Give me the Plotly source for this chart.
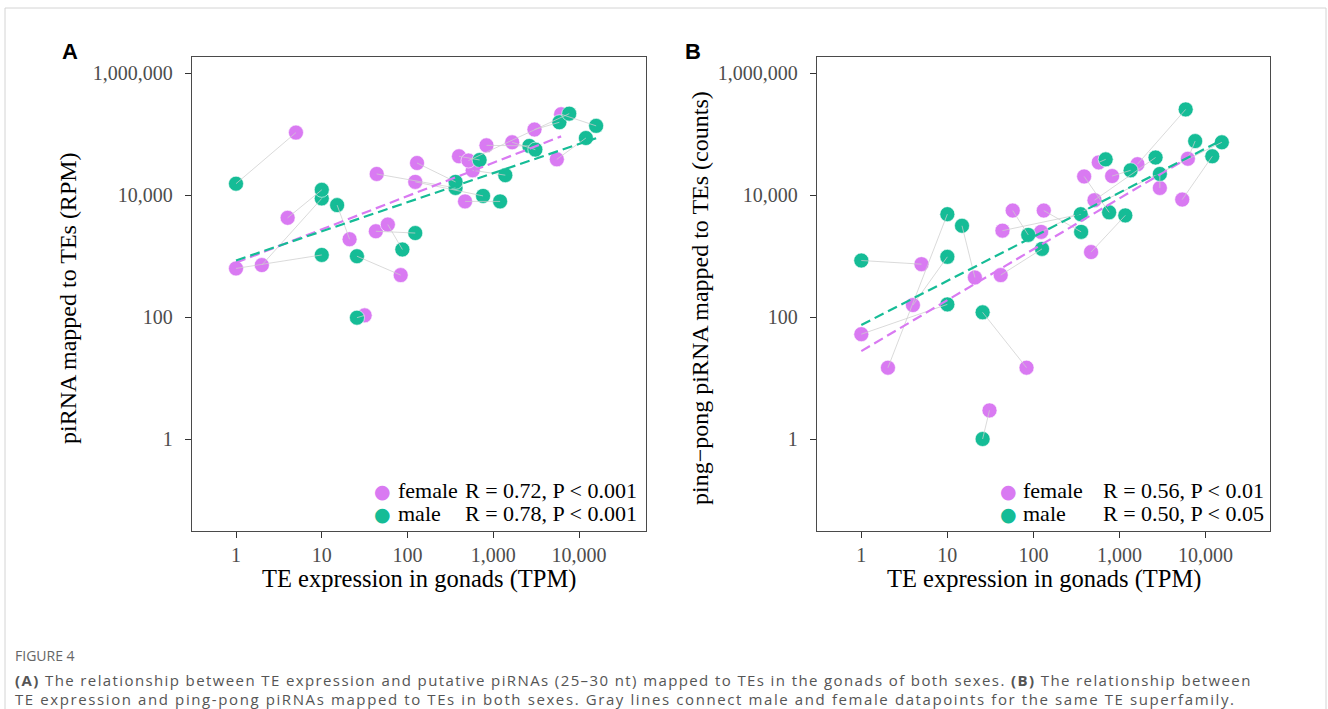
import numpy as np
import plotly.graph_objects as go

# ---------------- data ----------------
# Panel A: piRNA mapped to TEs (RPM) vs TE expression (TPM); index i = same TE superfamily
a_female_tpm = [5.0, 1, 2.0, 4.0, 21.1, 83.2, 31.6, 42.7, 58.9, 43.7, 129, 123, 398, 575, 468, 832, 1660, 3020, 5500, 6170, 513]
a_female_rpm = [107000, 630, 716, 4270, 1900, 490, 107, 2570, 3310, 22400, 33900, 16600, 43700, 25700, 7940, 66100, 74100, 120000, 38900, 214000, 37200]
a_male_tpm = [1, 10, 10, 10, 15.1, 25.7, 25.7, 123, 87, 363, 363, 759, 692, 1380, 1200, 2630, 3090, 5890, 12000, 15800, 7670]
a_male_rpm = [15500, 1050, 8900, 12300, 6900, 1000, 98, 2400, 1290, 13200, 16600, 9770, 38000, 21400, 7940, 64600, 56200, 158000, 87100, 138000, 219000]

# Panel B: ping-pong piRNA mapped to TEs (counts) vs TE expression (TPM)
b_female_tpm = [5.0, 2.04, 3.98, 1, 20.9, 83.2, 30.9, 41.7, 57.5, 132, 43.7, 468, 575, 1620, 5370, 6240, 2950, 822, 513, 389, 123]
b_female_cnt = [741, 14.8, 158, 52.5, 447, 14.8, 2.95, 490, 5620, 5620, 2630, 1170, 34700, 32400, 8510, 39800, 13200, 20700, 8320, 20400, 2510]
b_male_tpm = [1, 10, 10, 10, 14.8, 25.7, 25.7, 126, 87.1, 359, 355, 1170, 692, 5890, 12000, 7590, 2950, 1350, 2630, 759, 15500]
b_male_cnt = [851, 4900, 977, 162, 3160, 120, 1, 1320, 2240, 2510, 4900, 4680, 38900, 257000, 43700, 77600, 22400, 25700, 41700, 5250, 74100]

stats_a = {"female": "R = 0.72, P < 0.001", "male": "R = 0.78, P < 0.001"}
stats_b = {"female": "R = 0.56, P < 0.01", "male": "R = 0.50, P < 0.05"}

x_tickvals = [1, 10, 100, 1000, 10000]
x_ticktext = ["1", "10", "100", "1,000", "10,000"]
y_tickvals = [1, 100, 10000, 1000000]
y_ticktext = ["1", "100", "10,000", "1,000,000"]

PINK = "#D97AF2"
GREEN = "#15BC96"
SERIF = "Liberation Serif, Times New Roman, serif"
W, H = 1328, 709

fig = go.Figure()


def add_panel(fx, fy, mx, my, xa, ya):
    # points
    fig.add_trace(go.Scatter(x=fx, y=fy, mode="markers", xaxis=xa, yaxis=ya, showlegend=False,
                             marker=dict(color=PINK, size=15, line=dict(color="white", width=0.6))))
    fig.add_trace(go.Scatter(x=mx, y=my, mode="markers", xaxis=xa, yaxis=ya, showlegend=False,
                             marker=dict(color=GREEN, size=15, line=dict(color="white", width=0.6))))
    # grey connectors between sexes of the same superfamily
    lx, ly = [], []
    for a, b, c, d in zip(fx, fy, mx, my):
        lx += [a, c, None]
        ly += [b, d, None]
    fig.add_trace(go.Scatter(x=lx, y=ly, mode="lines", xaxis=xa, yaxis=ya, showlegend=False,
                             line=dict(color="rgba(205,205,205,0.75)", width=1)))
    # log-log regression lines
    for xs, ys, col in ((fx, fy, PINK), (mx, my, GREEN)):
        lxs, lys = np.log10(xs), np.log10(ys)
        k, b0 = np.polyfit(lxs, lys, 1)
        xe = np.array([lxs.min(), lxs.max()])
        fig.add_trace(go.Scatter(x=10 ** xe, y=10 ** (k * xe + b0), mode="lines", xaxis=xa, yaxis=ya,
                                 showlegend=False, line=dict(color=col, width=2.2, dash="10px,5px")))


add_panel(a_female_tpm, a_female_rpm, a_male_tpm, a_male_rpm, "x", "y")
add_panel(b_female_tpm, b_female_cnt, b_male_tpm, b_male_cnt, "x2", "y2")

axis_common = dict(type="log", showline=True, linecolor="#4a4a4a", linewidth=1.3, mirror=True,
                   ticks="outside", ticklen=6, tickwidth=1.3, tickcolor="#333333",
                   showgrid=False, zeroline=False,
                   tickfont=dict(family=SERIF, size=20, color="#4d4d4d"))

py0, py1 = 57, 531
ydom = [1 - py1 / H, 1 - py0 / H]
fig.update_layout(
    width=W, height=H, margin=dict(l=0, r=0, t=0, b=0),
    paper_bgcolor="white", plot_bgcolor="white",
    xaxis=dict(domain=[192 / W, 646 / W], range=[-0.513, 4.78], anchor="y",
               tickvals=x_tickvals, ticktext=x_ticktext, **axis_common),
    yaxis=dict(domain=ydom, range=[-1.51, 6.27], anchor="x", ticklabelstandoff=8,
               tickvals=y_tickvals, ticktext=y_ticktext, **axis_common),
    xaxis2=dict(domain=[817 / W, 1270 / W], range=[-0.515, 4.75], anchor="y2",
                tickvals=x_tickvals, ticktext=x_ticktext, **axis_common),
    yaxis2=dict(domain=ydom, range=[-1.51, 6.27], anchor="x2", ticklabelstandoff=8,
                tickvals=y_tickvals, ticktext=y_ticktext, **axis_common),
)


def px(x):
    return x / W


def py(y):
    return 1 - y / H


ann = []


def A(**kw):
    kw.setdefault("xref", "paper")
    kw.setdefault("yref", "paper")
    kw.setdefault("showarrow", False)
    ann.append(kw)


# axis titles
for cx in (419, 1044):
    A(x=px(cx), y=py(579), text="TE expression in gonads (TPM)", xanchor="center", yanchor="middle",
      font=dict(family=SERIF, size=24.5, color="black"))
A(x=px(68), y=py(298), text="piRNA mapped to TEs (RPM)", textangle=-90,
  xanchor="center", yanchor="middle", font=dict(family=SERIF, size=24, color="black"))
A(x=px(700), y=py(298), text="ping\u2212pong piRNA mapped to TEs (counts)", textangle=-90,
  xanchor="center", yanchor="middle", font=dict(family=SERIF, size=24, color="black"))
# panel letters
for x0, letter in ((70, "A"), (693, "B")):
    A(x=px(x0), y=py(51), text="<b>%s</b>" % letter, xanchor="center", yanchor="middle",
      font=dict(family="Liberation Sans, Arial, sans-serif", size=22, color="black"))
# in-panel legends
legend_spec = [
    (stats_a, 382, 396, 639, 490.5, 513.5),
    (stats_b, 1008, 1021, 1266, 490.5, 513.5),
]
for stats, dotx, labx, statr, y1, y2 in legend_spec:
    for (sex, col), yy in zip((("female", PINK), ("male", GREEN)), (y1, y2)):
        A(x=px(dotx), y=py(yy), text="\u25CF", xanchor="center", yanchor="middle",
          font=dict(family="DejaVu Sans", size=19, color=col))
        A(x=px(labx), y=py(yy), text=sex, xanchor="left", yanchor="middle",
          font=dict(family=SERIF, size=22, color="black"))
        A(x=px(statr), y=py(yy), text=stats[sex], xanchor="right", yanchor="middle",
          font=dict(family=SERIF, size=22, color="black"))
# caption
CAP = "Open Sans, Noto Sans, sans-serif"
A(x=px(13), y=py(655), text="FIGURE 4", xanchor="left", yanchor="middle",
  font=dict(family=CAP, size=14, color="#666666"))
A(x=px(13), y=py(679.5), xanchor="left", yanchor="middle",
  text="<span style='letter-spacing:1.39px'><b>(A)</b> The relationship between TE expression and putative "
       "piRNAs (25\u201330 nt) mapped to TEs in the gonads of both sexes. <b>(B)</b> The relationship between</span>",
  font=dict(family=CAP, size=15, color="#555555"))
A(x=px(13), y=py(698.5), xanchor="left", yanchor="middle",
  text="<span style='letter-spacing:1.6px'>TE expression and ping-pong piRNAs mapped to TEs in both sexes. "
       "Gray lines connect male and female datapoints for the same TE superfamily.</span>",
  font=dict(family=CAP, size=15, color="#555555"))
fig.update_layout(annotations=ann)

# outer frame of the figure card
fig.add_shape(type="rect", xref="paper", yref="paper", x0=px(5), x1=px(1326), y0=py(720), y1=py(8),
              line=dict(color="#d4d4d4", width=1), fillcolor="rgba(0,0,0,0)", layer="below")

fig.write_html("out.html", config={"displayModeBar": False},
               post_script="document.body.style.margin='0';document.body.style.overflow='hidden';")
